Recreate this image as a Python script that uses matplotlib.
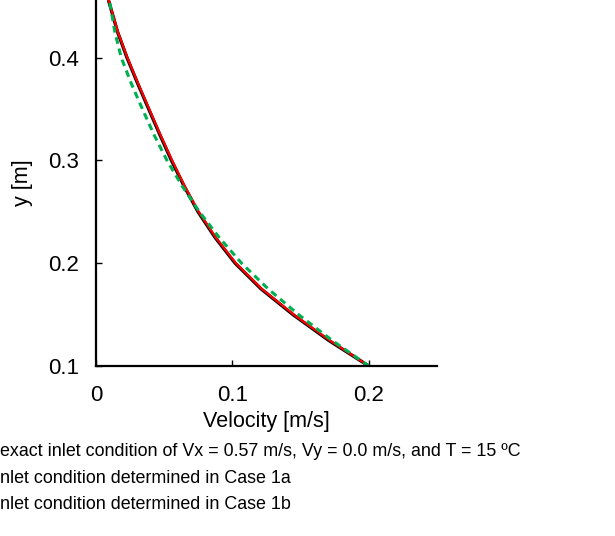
import matplotlib
matplotlib.use('Agg')
import matplotlib.pyplot as plt

plt.rcParams['font.family'] = ['Liberation Sans', 'DejaVu Sans']

# heights (y) where the profiles were read, and velocity of each profile
y_levels = [0.100, 0.125, 0.150, 0.175, 0.200, 0.225, 0.250, 0.275,
            0.300, 0.325, 0.350, 0.375, 0.400, 0.425, 0.456]
v_exact = [0.200, 0.1705, 0.1444, 0.1210, 0.1020, 0.0873, 0.0748, 0.0646,
           0.0553, 0.0468, 0.0386, 0.0305, 0.0227, 0.0158, 0.0091]
v_case1a = [0.200, 0.1712, 0.1450, 0.1215, 0.1025, 0.0878, 0.0752, 0.0650,
            0.0558, 0.0472, 0.0390, 0.0308, 0.0230, 0.0160, 0.0093]
v_case1b = [0.200, 0.1730, 0.1485, 0.1262, 0.1067, 0.0903, 0.0758, 0.0632,
            0.0520, 0.0425, 0.0340, 0.0258, 0.0185, 0.0138, 0.0098]

legend_labels = [
    'exact inlet condition of Vx = 0.57 m/s, Vy = 0.0 m/s, and T = 15 \u00baC',
    'nlet condition determined in Case 1a',
    'nlet condition determined in Case 1b',
]

x_ticks = [0, 0.1, 0.2]
y_ticks = [0.1, 0.2, 0.3, 0.4]

W, H = 615, 536
fig = plt.figure(figsize=(W / 100, H / 100), dpi=100)
ax = fig.add_axes([96 / W, 1 - 366 / H, (437 - 96) / W, 366 / H])

ax.plot(v_exact, y_levels, color='black', lw=2.4, solid_capstyle='butt')
ax.plot(v_case1a, y_levels, color='#ff0000', lw=1.6)
ax.plot(v_case1b, y_levels, color='#00b050', lw=2.2, linestyle=(0, (2.2, 1.6)))

ax.set_xlim(0, 0.25)
ax.set_ylim(0.1, 0.456)
ax.set_xticks(x_ticks)
ax.set_xticklabels(['0', '0.1', '0.2'])
ax.set_yticks(y_ticks)
ax.set_yticklabels(['0.1', '0.2', '0.3', '0.4'])
for s in ['top', 'right']:
    ax.spines[s].set_visible(False)
for s in ['left', 'bottom']:
    ax.spines[s].set_linewidth(1.6)
ax.tick_params(direction='in', length=4, width=1, labelsize=16, pad=14)
ax.tick_params(axis='y', pad=12)
ax.set_xlabel('Velocity [m/s]', fontsize=15.5, labelpad=3)
ax.set_ylabel('y [m]', fontsize=15.5, labelpad=11)

# legend text, its line samples are cut off at the left edge
for i, lab in enumerate(legend_labels):
    fig.text(0, 1 - (456 + 26.7 * i) / H, lab, fontsize=12.9,
             ha='left', va='baseline')

fig.savefig('out.png', dpi=100)
